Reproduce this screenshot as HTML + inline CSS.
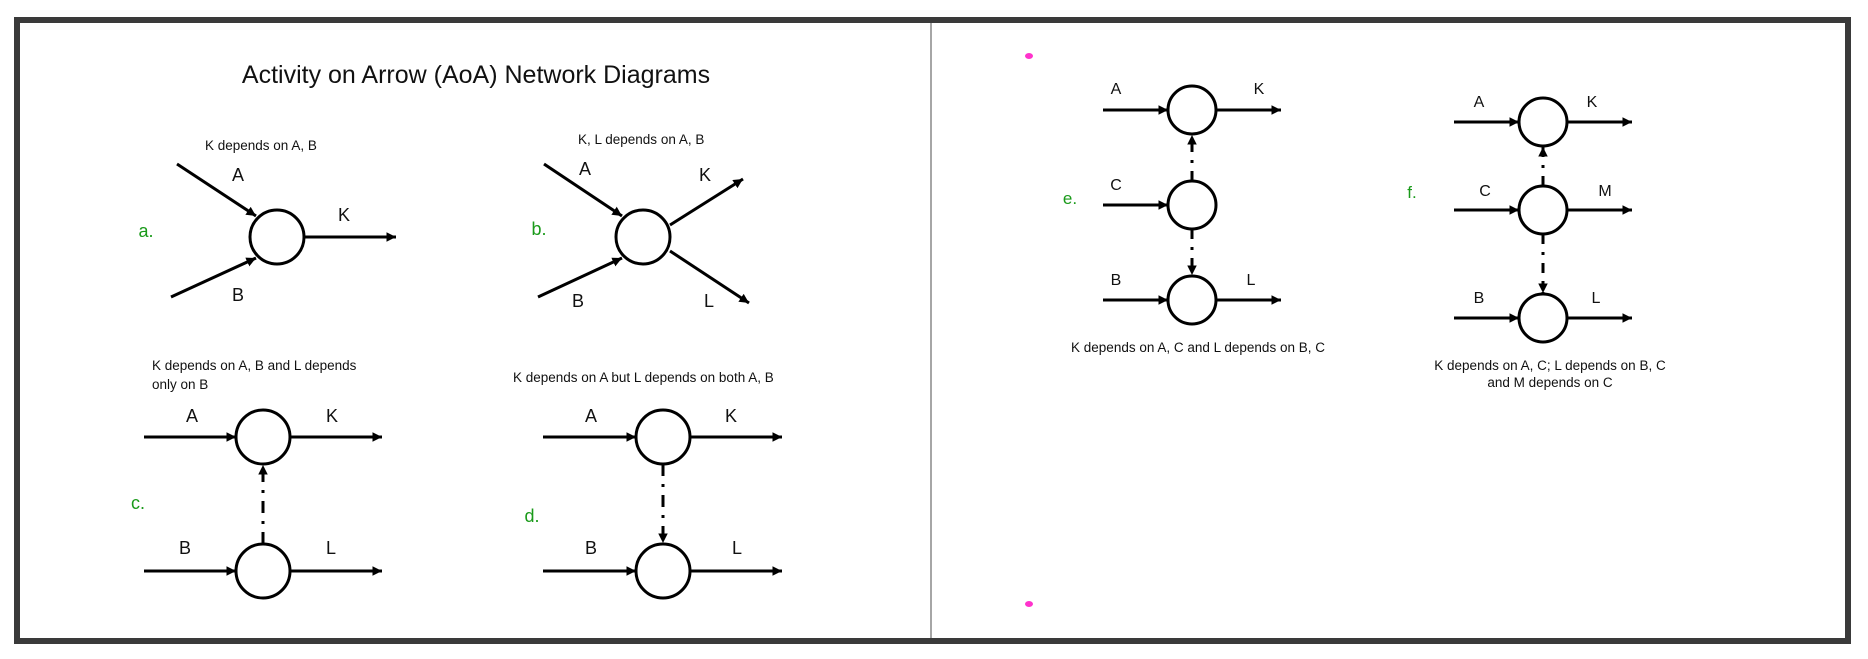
<!DOCTYPE html>
<html><head><meta charset="utf-8"><style>
html,body{margin:0;padding:0;background:#fff;width:1868px;height:659px;overflow:hidden}
svg{display:block}
text{font-family:"Liberation Sans",Arial,sans-serif;fill:#111}
.g{fill:#1a9a1a}
</style></head><body>
<svg width="1868" height="659" viewBox="0 0 1868 659">
<defs>
<marker id="ah" viewBox="0 0 10 10" refX="10" refY="5" markerWidth="3.2" markerHeight="3.2" orient="auto" markerUnits="strokeWidth">
<path d="M0,0 L10,5 L0,10 z" fill="#000"/></marker>
</defs>
<rect width="1868" height="659" fill="#fff"/>
<!-- frame -->
<rect x="17" y="20" width="1831" height="621" fill="none" stroke="#3a3a3a" stroke-width="6"/>
<line x1="931" y1="23" x2="931" y2="638" stroke="#888" stroke-width="1.5"/>

<g stroke="#000" stroke-width="3" fill="none">
<!-- a -->
<circle cx="277" cy="237" r="27"/>
<line x1="177" y1="164" x2="256" y2="216" marker-end="url(#ah)"/>
<line x1="171" y1="297" x2="256" y2="258" marker-end="url(#ah)"/>
<line x1="304" y1="237" x2="396" y2="237" marker-end="url(#ah)"/>
<!-- b -->
<circle cx="643" cy="237" r="27"/>
<line x1="544" y1="164" x2="622" y2="216" marker-end="url(#ah)"/>
<line x1="538" y1="297" x2="622" y2="258" marker-end="url(#ah)"/>
<line x1="670" y1="225" x2="743" y2="179" marker-end="url(#ah)"/>
<line x1="670" y1="251" x2="749" y2="303" marker-end="url(#ah)"/>
<!-- c -->
<circle cx="263" cy="437" r="27"/>
<circle cx="263" cy="571" r="27"/>
<line x1="144" y1="437" x2="236" y2="437" marker-end="url(#ah)"/>
<line x1="290" y1="437" x2="382" y2="437" marker-end="url(#ah)"/>
<line x1="144" y1="571" x2="236" y2="571" marker-end="url(#ah)"/>
<line x1="290" y1="571" x2="382" y2="571" marker-end="url(#ah)"/>
<line x1="263" y1="544" x2="263" y2="465" stroke-dasharray="12,8,3,8" marker-end="url(#ah)"/>
<!-- d -->
<circle cx="663" cy="437" r="27"/>
<circle cx="663" cy="571" r="27"/>
<line x1="543" y1="437" x2="636" y2="437" marker-end="url(#ah)"/>
<line x1="690" y1="437" x2="782" y2="437" marker-end="url(#ah)"/>
<line x1="543" y1="571" x2="636" y2="571" marker-end="url(#ah)"/>
<line x1="690" y1="571" x2="782" y2="571" marker-end="url(#ah)"/>
<line x1="663" y1="464" x2="663" y2="543" stroke-dasharray="12,8,3,8" marker-end="url(#ah)"/>
<!-- e -->
<circle cx="1192" cy="110" r="24"/>
<circle cx="1192" cy="205" r="24"/>
<circle cx="1192" cy="300" r="24"/>
<line x1="1103" y1="110" x2="1168" y2="110" marker-end="url(#ah)"/>
<line x1="1216" y1="110" x2="1281" y2="110" marker-end="url(#ah)"/>
<line x1="1103" y1="205" x2="1168" y2="205" marker-end="url(#ah)"/>
<line x1="1103" y1="300" x2="1168" y2="300" marker-end="url(#ah)"/>
<line x1="1216" y1="300" x2="1281" y2="300" marker-end="url(#ah)"/>
<line x1="1192" y1="181" x2="1192" y2="135" stroke-dasharray="10,8,3,8" marker-end="url(#ah)"/>
<line x1="1192" y1="229" x2="1192" y2="275" stroke-dasharray="10,8,3,8" marker-end="url(#ah)"/>
<!-- f -->
<circle cx="1543" cy="122" r="24"/>
<circle cx="1543" cy="210" r="24"/>
<circle cx="1543" cy="318" r="24"/>
<line x1="1454" y1="122" x2="1519" y2="122" marker-end="url(#ah)"/>
<line x1="1567" y1="122" x2="1632" y2="122" marker-end="url(#ah)"/>
<line x1="1454" y1="210" x2="1519" y2="210" marker-end="url(#ah)"/>
<line x1="1567" y1="210" x2="1632" y2="210" marker-end="url(#ah)"/>
<line x1="1454" y1="318" x2="1519" y2="318" marker-end="url(#ah)"/>
<line x1="1567" y1="318" x2="1632" y2="318" marker-end="url(#ah)"/>
<line x1="1543" y1="186" x2="1543" y2="147" stroke-dasharray="10,8,3,8" marker-end="url(#ah)"/>
<line x1="1543" y1="234" x2="1543" y2="293" stroke-dasharray="10,8,3,8" marker-end="url(#ah)"/>
</g>

<ellipse cx="1029" cy="56" rx="4" ry="3" fill="#ff33cc"/>
<ellipse cx="1029" cy="604" rx="4" ry="3" fill="#ff33cc"/>

<text x="476" y="83" font-size="25" text-anchor="middle">Activity on Arrow (AoA) Network Diagrams</text>

<g font-size="13.5">
<text x="205" y="150">K depends on A, B</text>
<text x="578" y="144">K, L depends on A, B</text>
<text x="152" y="370">K depends on A, B and L depends</text>
<text x="152" y="389">only on B</text>
<text x="513" y="382">K depends on A but L depends on both A, B</text>
<text x="1198" y="352" text-anchor="middle">K depends on A, C and L depends on B, C</text>
<text x="1550" y="370" text-anchor="middle">K depends on A, C; L depends on B, C</text>
<text x="1550" y="387" text-anchor="middle">and M depends on C</text>
</g>

<g font-size="18" text-anchor="middle">
<text x="238" y="181">A</text><text x="238" y="301">B</text><text x="344" y="221">K</text>
<text x="585" y="175">A</text><text x="705" y="181">K</text><text x="578" y="307">B</text><text x="709" y="307">L</text>
<text x="192" y="422">A</text><text x="332" y="422">K</text><text x="185" y="554">B</text><text x="331" y="554">L</text>
<text x="591" y="422">A</text><text x="731" y="422">K</text><text x="591" y="554">B</text><text x="737" y="554">L</text>
</g>
<g font-size="16" text-anchor="middle">
<text x="1116" y="94">A</text><text x="1259" y="94">K</text><text x="1116" y="190">C</text>
<text x="1116" y="285">B</text><text x="1251" y="285">L</text>
<text x="1479" y="107">A</text><text x="1592" y="107">K</text><text x="1485" y="196">C</text>
<text x="1605" y="196">M</text><text x="1479" y="303">B</text><text x="1596" y="303">L</text>
</g>
<g font-size="18" text-anchor="middle">
<text class="g" x="146" y="237">a.</text>
<text class="g" x="539" y="235">b.</text>
<text class="g" x="138" y="509">c.</text>
<text class="g" x="532" y="522">d.</text>
<text class="g" x="1070" y="204" font-size="17">e.</text>
<text class="g" x="1412" y="198" font-size="17">f.</text>
</g>
</svg>
</body></html>
